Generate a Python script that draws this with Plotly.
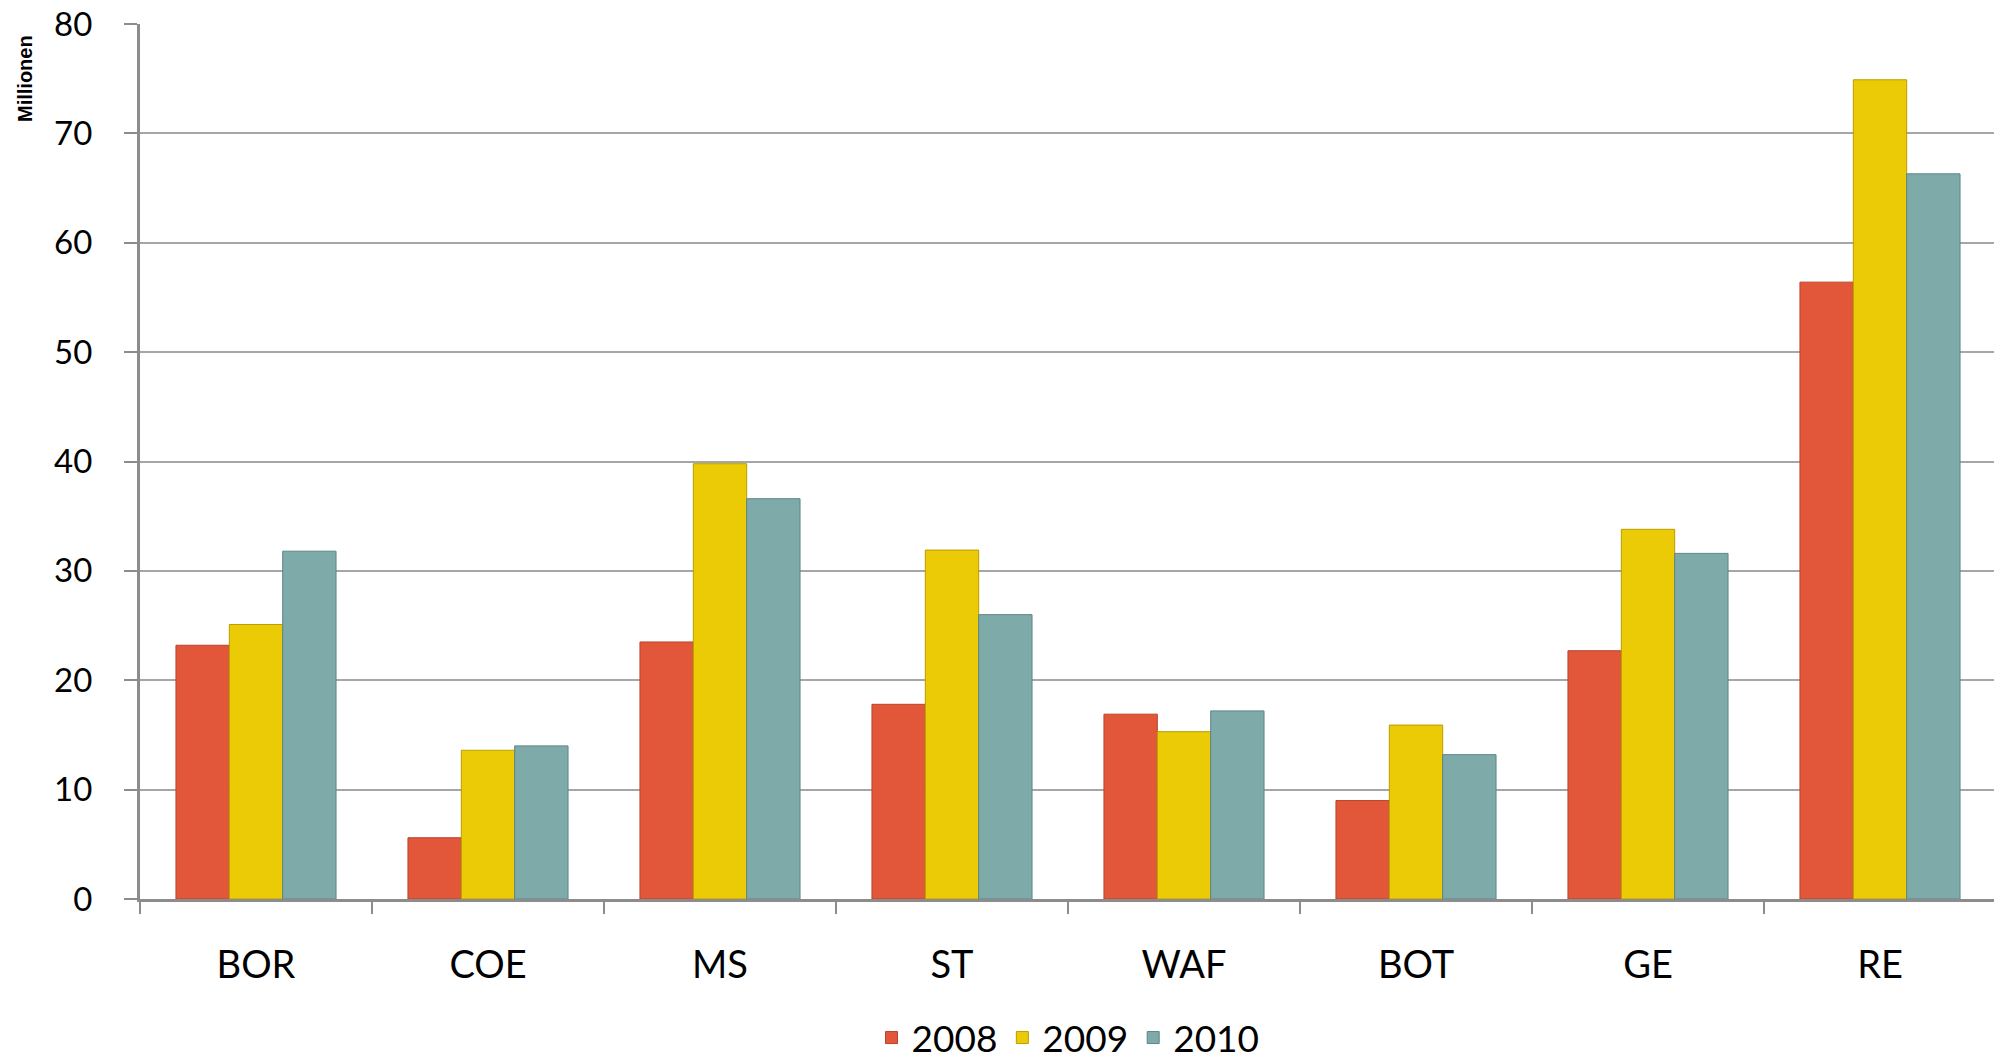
import plotly.graph_objects as go

categories = ["BOR", "COE", "MS", "ST", "WAF", "BOT", "GE", "RE"]
series_names = ["2008", "2009", "2010"]
values_2008 = [23.2, 5.6, 23.5, 17.8, 16.9, 9.0, 22.7, 56.4]
values_2009 = [25.1, 13.6, 39.8, 31.9, 15.3, 15.9, 33.8, 74.9]
values_2010 = [31.8, 14.0, 36.6, 26.0, 17.2, 13.2, 31.6, 66.3]
y_ticks = [0, 10, 20, 30, 40, 50, 60, 70, 80]

colors = ["#E2573A", "#EBCB05", "#7FAAAA"]
edge = ["#B8432A", "#B89E00", "#5E8686"]

FONT = "Lato, 'Open Sans', sans-serif"

# page body has an 8px default margin; plot area on screen: x 140..1996, y 24..899
L, T, B, R = 132, 16, 168, 14
PW, PH = 2002 - L - R, 1059 - T - B

fig = go.Figure()
for name, vals, c, e in zip(series_names, [values_2008, values_2009, values_2010], colors, edge):
    fig.add_trace(go.Bar(
        x=categories, y=vals, name=name,
        marker=dict(color=c, line=dict(color=e, width=1)),
    ))

fig.update_layout(
    width=2002, height=1059,
    margin=dict(l=L, r=R, t=T, b=B, autoexpand=False),
    paper_bgcolor="white", plot_bgcolor="white",
    barmode="group", bargap=0.31, bargroupgap=0,
    font=dict(family=FONT, color="black"),
    showlegend=True,
    legend=dict(
        orientation="h", x=0.5, xanchor="center",
        yref="container", y=1 - 1030 / 1059, yanchor="middle",
        font=dict(size=37, family=FONT, color="black"),
        itemwidth=30, tracegroupgap=0,
    ),
    xaxis=dict(
        tickson="boundaries", ticks="outside", ticklen=12, tickwidth=2, tickcolor="#8C8C8C",
        showline=True, linecolor="#8C8C8C", linewidth=3,
        showgrid=False, tickfont=dict(size=38, family=FONT, color="black"),
        ticklabelstandoff=30, automargin=False, ticklabeloverflow="allow",
    ),
    yaxis=dict(
        range=[0, 80], tickvals=y_ticks, ticks="outside", ticklen=13, tickwidth=2, tickcolor="#8C8C8C",
        showline=True, linecolor="#8C8C8C", linewidth=3,
        showgrid=True, gridcolor="#A6A6A6", gridwidth=2,
        zeroline=False,
        tickfont=dict(size=33, family=FONT, color="black"),
        ticklabelstandoff=25, automargin=False, ticklabeloverflow="allow",
    ),
    annotations=[dict(
        text="<b>Millionen</b>", textangle=-90, xref="paper", yref="paper",
        x=(17 - L) / PW, y=(T + PH - 71) / PH, xanchor="center", yanchor="middle",
        showarrow=False, font=dict(size=20, family="'Liberation Sans', Arial, sans-serif", color="black"),
    )],
)

fig.write_html("out.html")
